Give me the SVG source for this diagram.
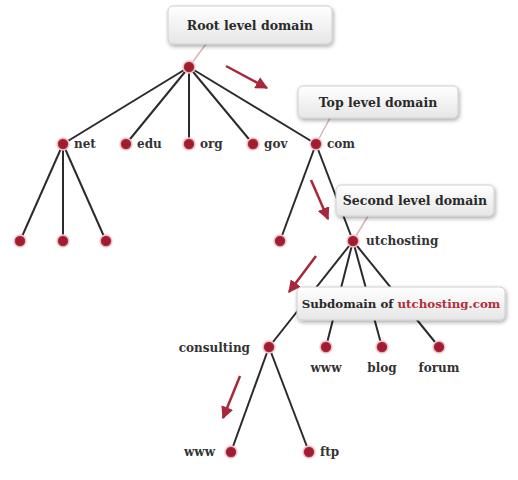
<svg xmlns="http://www.w3.org/2000/svg" width="518" height="480" viewBox="0 0 518 480">
<defs>
<linearGradient id="bg" x1="0" y1="0" x2="0" y2="1">
<stop offset="0" stop-color="#ffffff"/><stop offset="1" stop-color="#e6e6e6"/>
</linearGradient>
<filter id="sh" x="-10%" y="-20%" width="130%" height="160%">
<feGaussianBlur in="SourceAlpha" stdDeviation="2"/><feOffset dx="1" dy="2"/>
<feComponentTransfer><feFuncA type="linear" slope="0.35"/></feComponentTransfer>
<feMerge><feMergeNode/><feMergeNode in="SourceGraphic"/></feMerge>
</filter>
<marker id="ah" viewBox="0 0 10 10" refX="9" refY="5" markerWidth="5" markerHeight="5" orient="auto">
<path d="M0,0 L10,5 L0,10 Z" fill="#a8283a"/>
</marker>
<radialGradient id="nd"><stop offset="0.6" stop-color="#a01c30"/><stop offset="1" stop-color="#b8434f"/></radialGradient>
</defs>
<style>
.e{stroke:#2b2b2b;stroke-width:2;fill:none}
.ar{stroke:#a8283a;stroke-width:2.5;fill:none;marker-end:url(#ah)}
.n{fill:url(#nd);stroke:#f3c8cc;stroke-width:1.5}
.t{font-family:"DejaVu Serif","Liberation Serif",serif;font-weight:bold;font-size:12px;fill:#333}
.b{fill:url(#bg);stroke:#cfcfcf;stroke-width:1;filter:url(#sh)}
.bt{font-family:"DejaVu Serif","Liberation Serif",serif;font-weight:bold;font-size:12.5px;fill:#2a2a2a}
.tl{stroke:#d9b3b7;stroke-width:1.5}
</style>
<g id="connectors">
<line class="e" x1="189" y1="67" x2="63" y2="144"/>
<line class="e" x1="189" y1="67" x2="126" y2="144"/>
<line class="e" x1="189" y1="67" x2="189" y2="144"/>
<line class="e" x1="189" y1="67" x2="253" y2="144"/>
<line class="e" x1="189" y1="67" x2="316" y2="144"/>
<line class="e" x1="63" y1="144" x2="20" y2="241"/>
<line class="e" x1="63" y1="144" x2="63" y2="241"/>
<line class="e" x1="63" y1="144" x2="106" y2="241"/>
<line class="e" x1="316" y1="144" x2="280" y2="241"/>
<line class="e" x1="316" y1="144" x2="353" y2="241"/>
<line class="e" x1="353" y1="241" x2="269" y2="347"/>
<line class="e" x1="353" y1="241" x2="326" y2="347"/>
<line class="e" x1="353" y1="241" x2="382" y2="347"/>
<line class="e" x1="353" y1="241" x2="439" y2="347"/>
<line class="e" x1="269" y1="347" x2="231" y2="452"/>
<line class="e" x1="269" y1="347" x2="309" y2="452"/>
<line class="ar" x1="226" y1="66" x2="267" y2="88"/>
<line class="ar" x1="311" y1="180" x2="328" y2="219"/>
<line class="ar" x1="316" y1="256" x2="289" y2="292"/>
<line class="ar" x1="240" y1="376" x2="223" y2="418"/>
<line class="tl" x1="189" y1="67" x2="206" y2="44"/>
<line class="tl" x1="316" y1="144" x2="330" y2="118"/>
<line class="tl" x1="353" y1="241" x2="368" y2="216"/>
</g>
<g id="root-box"><rect class="b" x="168" y="6" width="164" height="38" rx="5"/><text class="bt" x="250" y="30" text-anchor="middle">Root level domain</text></g>
<g id="tld-box"><rect class="b" x="298" y="86" width="160" height="32" rx="5"/><text class="bt" x="378" y="107" text-anchor="middle">Top level domain</text></g>
<g id="sld-box"><rect class="b" x="336" y="185" width="158" height="31" rx="5"/><text class="bt" x="415" y="205" text-anchor="middle">Second level domain</text></g>
<g id="sub-box"><rect class="b" x="297" y="287" width="208" height="33" rx="5"/><text class="bt" x="401" y="308" text-anchor="middle" style="font-size:11.8px">Subdomain of <tspan fill="#b0303c">utchosting.com</tspan></text></g>
<g id="root"><circle class="n" cx="189" cy="67" r="6"/></g>
<g id="net"><circle class="n" cx="63" cy="144" r="6"/><text class="t" x="74" y="148">net</text></g>
<g id="edu"><circle class="n" cx="126" cy="144" r="6"/><text class="t" x="137" y="148">edu</text></g>
<g id="org"><circle class="n" cx="189" cy="144" r="6"/><text class="t" x="200" y="148">org</text></g>
<g id="gov"><circle class="n" cx="253" cy="144" r="6"/><text class="t" x="264" y="148">gov</text></g>
<g id="com"><circle class="n" cx="316" cy="144" r="6"/><text class="t" x="327" y="148">com</text></g>
<g id="net1"><circle class="n" cx="20" cy="241" r="6"/></g>
<g id="net2"><circle class="n" cx="63" cy="241" r="6"/></g>
<g id="net3"><circle class="n" cx="106" cy="241" r="6"/></g>
<g id="com1"><circle class="n" cx="280" cy="241" r="6"/></g>
<g id="utchosting"><circle class="n" cx="353" cy="241" r="6"/><text class="t" x="366" y="245">utchosting</text></g>
<g id="consulting"><circle class="n" cx="269" cy="347" r="6"/><text class="t" x="250" y="352" text-anchor="end">consulting</text></g>
<g id="www1"><circle class="n" cx="326" cy="347" r="6"/><text class="t" x="326" y="372" text-anchor="middle">www</text></g>
<g id="blog"><circle class="n" cx="382" cy="347" r="6"/><text class="t" x="382" y="372" text-anchor="middle">blog</text></g>
<g id="forum"><circle class="n" cx="439" cy="347" r="6"/><text class="t" x="439" y="372" text-anchor="middle">forum</text></g>
<g id="www2"><circle class="n" cx="231" cy="452" r="6"/><text class="t" x="215" y="456" text-anchor="end">www</text></g>
<g id="ftp"><circle class="n" cx="309" cy="452" r="6"/><text class="t" x="320" y="456">ftp</text></g>
</svg>
